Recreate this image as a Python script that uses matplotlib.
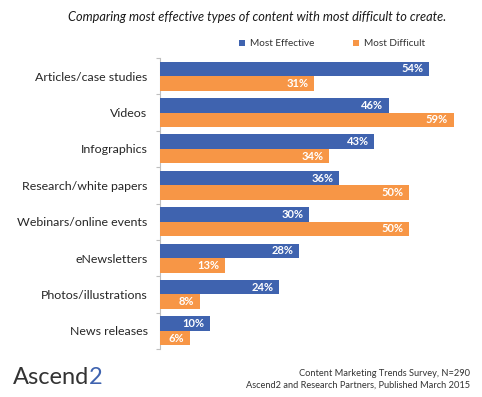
import matplotlib
matplotlib.use("Agg")
import matplotlib.pyplot as plt
import numpy as np

categories = ["Articles/case studies", "Videos", "Infographics", "Research/white papers",
              "Webinars/online events", "eNewsletters", "Photos/illustrations", "News releases"]
most_effective = [54, 46, 43, 36, 30, 28, 24, 10]
most_difficult = [31, 59, 34, 50, 50, 13, 8, 6]
series_names = ["Most Effective", "Most Difficult"]

BLUE = "#3F63AF"
ORANGE = "#F79646"
FONT = "Lato"

fig = plt.figure(figsize=(4.82, 3.97), dpi=100)
W, H = 482, 397
ax = fig.add_axes([160 / W, 1 - 349 / H, 300 / W, (349 - 58) / H])

n = len(categories)
y = np.arange(n)
bh = 0.4
ax.barh(y - bh / 2, most_effective, height=bh, color=BLUE, label=series_names[0], zorder=3)
ax.barh(y + bh / 2, most_difficult, height=bh, color=ORANGE, label=series_names[1], zorder=3)

for yi, v in zip(y, most_effective):
    ax.text(v - 1.1, yi - bh / 2, f"{v}%", ha="right", va="center", color="white",
            fontsize=8, fontweight="bold", family=FONT, zorder=4)
for yi, v in zip(y, most_difficult):
    ax.text(v - 1.1, yi + bh / 2, f"{v}%", ha="right", va="center", color="white",
            fontsize=8, fontweight="bold", family=FONT, zorder=4)

ax.set_ylim(n - 0.5, -0.5)
ax.set_xlim(0, 60.3)
ax.set_yticks(np.arange(-0.5, n, 1.0))
ax.set_yticklabels([])
ax.set_yticks(y, minor=True)
ax.set_yticklabels(categories, minor=True, fontsize=8.9, family=FONT, color="#262626")
ax.tick_params(axis="y", which="major", length=3, color="#BFBFBF", direction="out")
ax.tick_params(axis="y", which="minor", length=0, pad=9)
ax.set_xticks([])
for s in ["top", "right", "bottom"]:
    ax.spines[s].set_visible(False)
ax.spines["left"].set_color("#BFBFBF")
ax.spines["left"].set_linewidth(0.8)

fig.text(257 / W, 1 - 17 / H, "Comparing most effective types of content with most difficult to create.",
         ha="center", va="center", fontsize=9.2, style="italic", family=FONT, color="#1a1a1a")

leg = fig.legend(loc="center", bbox_to_anchor=(332 / W, 1 - 44 / H), ncol=2, frameon=False,
                 prop={"family": FONT, "size": 7.2}, handlelength=0.6, handleheight=0.6,
                 columnspacing=3.9, handletextpad=0.5)
for t in leg.get_texts():
    t.set_color("#333333")

fig.text(470 / W, 1 - 373 / H, "Content Marketing Trends Survey, N=290", ha="right", va="center",
         fontsize=6.7, family=FONT, color="#333333")
fig.text(470 / W, 1 - 385 / H, "Ascend2 and Research Partners, Published March 2015", ha="right",
         va="center", fontsize=6.7, family=FONT, color="#333333")

t1 = fig.text(13 / W, 1 - 378 / H, "Ascend", ha="left", va="center", fontsize=17,
              family=FONT, color="#333333")
fig.canvas.draw()
bb = t1.get_window_extent()
fig.text(bb.x1 / W, 1 - 378 / H, "2", ha="left", va="center", fontsize=17,
         family=FONT, color="#3F63AF")

fig.savefig("out.png", dpi=100)
